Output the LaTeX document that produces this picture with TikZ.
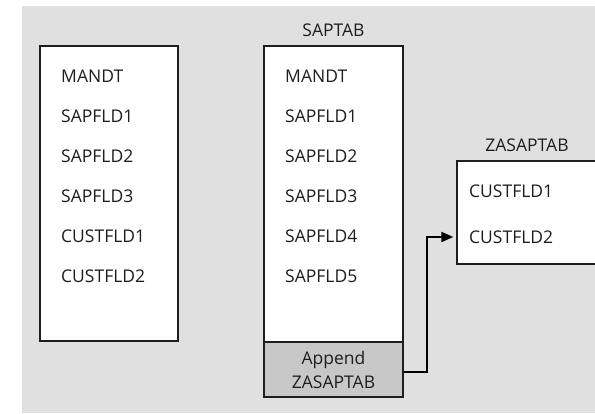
\documentclass[tikz,border=0pt]{standalone}
\usepackage{fontspec}
\setmainfont{Open Sans}
\usetikzlibrary{arrows.meta}
\definecolor{bggray}{HTML}{E0E0E0}
\definecolor{appgray}{HTML}{C8C8C8}
\definecolor{ink}{HTML}{1E1E1E}
\tikzset{
  tbl/.style={draw=ink, line width=1.4pt, fill=white, inner sep=0pt},
  fld/.style={anchor=west, inner sep=0pt, font=\fontsize{17.5}{18}\selectfont, text=ink},
  tabname/.style={inner sep=0pt, font=\fontsize{17.5}{18}\selectfont, text=ink},
  link/.style={draw=black, line width=2.2pt, -{Stealth[length=12pt,width=10pt,inset=0pt]}}
}
\begin{document}
\begin{tikzpicture}[x=1pt,y=-1pt]
\useasboundingbox (0,0) rectangle (595,414);
\fill[bggray] (22,6) rectangle (595,413);

% plain table
\node[tbl, minimum width=138, minimum height=295] (lt) at (109,193.5) {};
\foreach \t [count=\i] in {MANDT,SAPFLD1,SAPFLD2,SAPFLD3,CUSTFLD1,CUSTFLD2}
  \node[fld] (l\i) at (61,{36+40*\i}) {\t};

% SAPTAB with its append structure
\node[tabname] (stcap) at (333.5,30) {SAPTAB};
\node[tbl, minimum width=139, minimum height=296] (st) at (333.5,194) {};
\foreach \t [count=\i] in {MANDT,SAPFLD1,SAPFLD2,SAPFLD3,SAPFLD4,SAPFLD5}
  \node[fld] (s\i) at (285,{36+40*\i}) {\t};
\node[tbl, fill=appgray, minimum width=139, minimum height=55, align=center,
      font=\fontsize{17.5}{24}\selectfont, text=ink] (app) at (333.5,369.5)
  {Append\\ZASAPTAB};

% ZASAPTAB (runs past the right edge)
\node[tabname] (ztcap) at (527,145) {ZASAPTAB};
\node[tbl, minimum width=144, minimum height=103] (zt) at (529,212.5) {};
\node[fld] (z1) at (469,191) {CUSTFLD1};
\node[fld] (z2) at (469,237) {CUSTFLD2};

\draw[link, shorten >=3pt] ([yshift=-2.5]app.east) -- ++(23,0) |- (zt.west |- z2);
\end{tikzpicture}
\end{document}
